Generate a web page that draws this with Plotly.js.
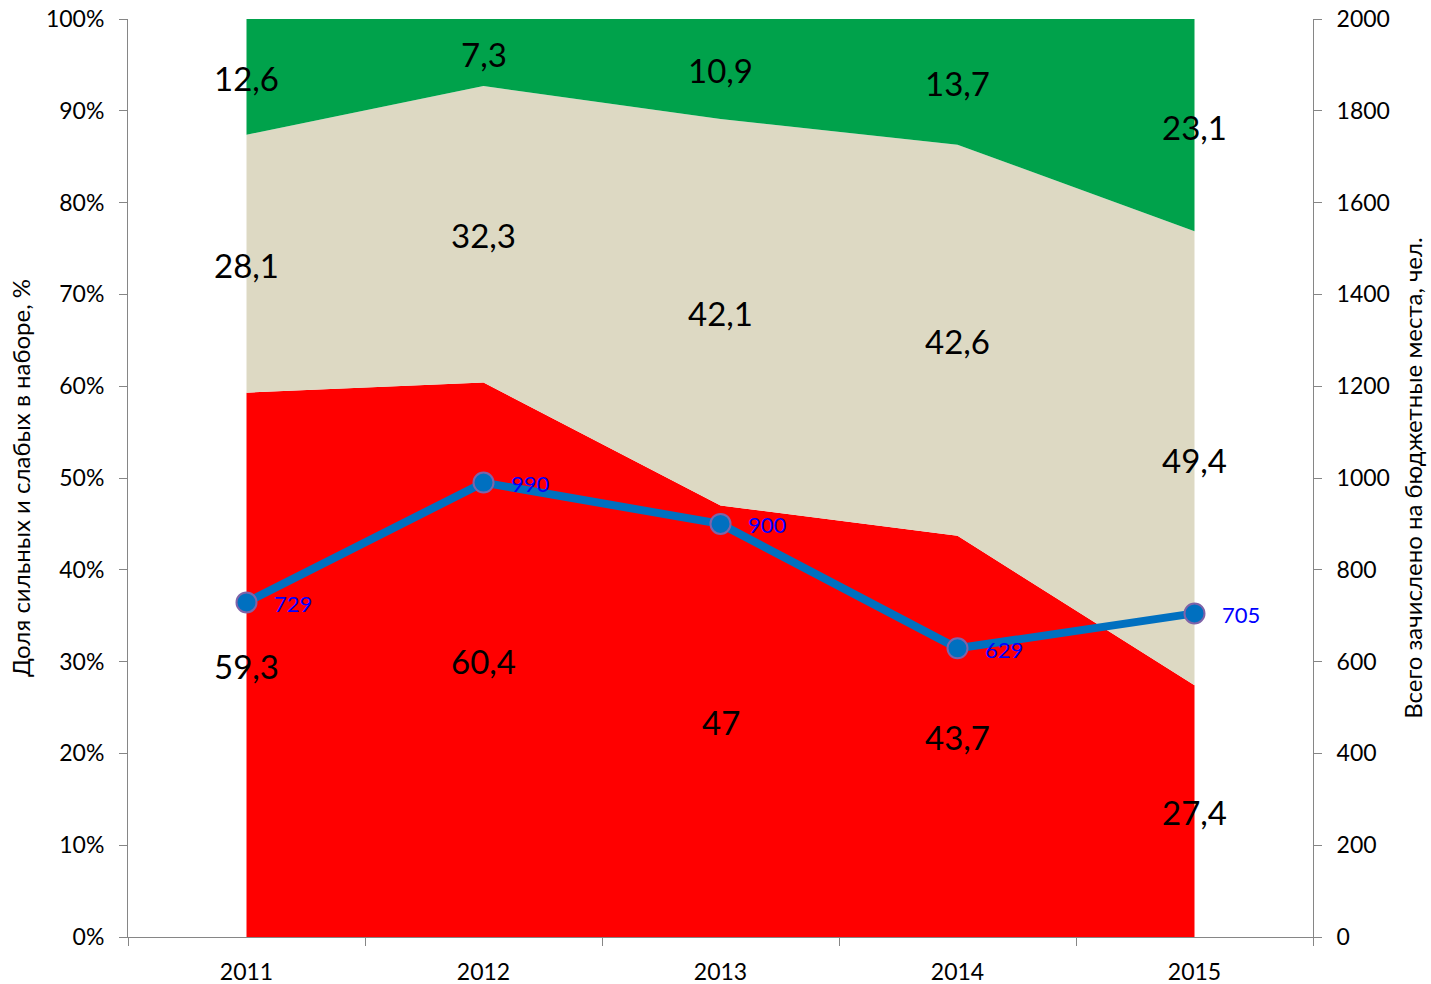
<!DOCTYPE html>
<html lang="ru">
<head>
    <meta charset="UTF-8">
    <title>Доля сильных и слабых в наборе</title>
    <script src="https://cdn.plot.ly/plotly-3.0.1.min.js"></script>
    <style>
        body { margin: 0; background: #fff; }
        #chart { width: 1431px; height: 984px; }
    </style>
</head>
<body>
    <div id="chart"></div>
    <script>
        const years = ['2011', '2012', '2013', '2014', '2015'];
        const weak = [59.3, 60.4, 47, 43.7, 27.4];      // red
        const middle = [28.1, 32.3, 42.1, 42.6, 49.4];  // beige
        const strong = [12.6, 7.3, 10.9, 13.7, 23.1];   // green
        const enrolled = [729, 990, 900, 629, 705];

        const FONT = 'Lato, "Open Sans", sans-serif';
        const fmt = v => String(v).replace('.', ',');

        function areaTrace(vals, color, name) {
            return {
                x: years, y: vals, name: name,
                type: 'scatter', mode: 'lines', stackgroup: 'one', groupnorm: 'percent',
                line: { width: 0, color: color }, fillcolor: color,
                hoverinfo: 'skip'
            };
        }

        const traces = [
            areaTrace(weak, '#FF0000', 'weak'),
            areaTrace(middle, '#DDD9C3', 'middle'),
            areaTrace(strong, '#00A24B', 'strong'),
            {
                x: years, y: enrolled, yaxis: 'y2', type: 'scatter', mode: 'lines+markers',
                line: { color: '#0070C0', width: 8 },
                marker: { size: 20, color: '#0070C0', line: { color: '#7F63A8', width: 2 } },
                hoverinfo: 'skip'
            }
        ];

        // segment labels in the middle of each stacked band
        // (category axes take the serial number of the category)
        const annotations = [];
        years.forEach((yr, i) => {
            let base = 0;
            [weak, middle, strong].forEach(s => {
                annotations.push({
                    x: i, y: base + s[i] / 2, xref: 'x', yref: 'y', text: fmt(s[i]),
                    showarrow: false, yshift: -1,
                    font: { family: FONT, size: 33, color: '#000' }
                });
                base += s[i];
            });
        });

        // enrolled counts next to the line markers
        years.forEach((yr, i) => {
            annotations.push({
                x: i, y: enrolled[i], xref: 'x', yref: 'y2', text: String(enrolled[i]),
                showarrow: false, xanchor: 'left', yanchor: 'middle', xshift: 25, yshift: -1,
                font: { family: FONT, size: 22, color: '#0000FF' }
            });
        });

        const axisCommon = {
            showgrid: false, zeroline: false,
            showline: true, linecolor: '#868686', linewidth: 1,
            ticks: 'outside', ticklen: 8, tickcolor: '#868686',
            tickfont: { family: FONT, size: 23, color: '#000' }
        };

        const layout = {
            width: 1431, height: 984,
            margin: { l: 128, r: 118, t: 19, b: 47 },
            showlegend: false,
            paper_bgcolor: '#fff', plot_bgcolor: '#fff',
            xaxis: Object.assign({}, axisCommon, {
                type: 'category', range: [-0.5, 4.5], tickson: 'boundaries',
                ticklabelstandoff: 14
            }),
            yaxis: Object.assign({}, axisCommon, {
                range: [0, 100], dtick: 10, ticksuffix: '%', ticklabelstandoff: 10,
                title: { text: 'Доля сильных и слабых в наборе, %', standoff: 8,
                         font: { family: FONT, size: 24, color: '#000' } }
            }),
            yaxis2: Object.assign({}, axisCommon, {
                overlaying: 'y', side: 'right', range: [0, 2000], dtick: 200,
                ticklabelstandoff: 10,
                title: { text: 'Всего зачислено на бюджетные места, чел.', standoff: 16,
                         font: { family: FONT, size: 24, color: '#000' } }
            }),
            annotations: annotations
        };

        Plotly.newPlot('chart', traces, layout, { displayModeBar: false, staticPlot: true });
    </script>
</body>
</html>
